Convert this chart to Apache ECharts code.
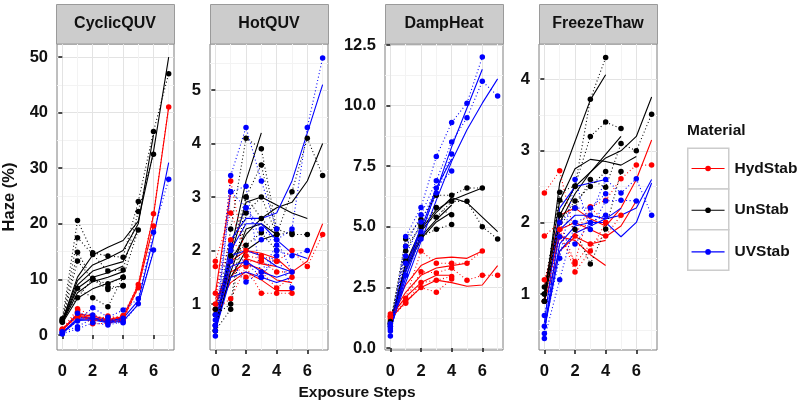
<!DOCTYPE html>
<html><head><meta charset="utf-8">
<script src="https://cdn.jsdelivr.net/npm/echarts@6/dist/echarts.min.js"></script>
<style>html,body{margin:0;padding:0;background:#fff}#c{width:800px;height:405px}</style>
</head><body><div id="c"></div>
<script>
const steps = [0, 1, 2, 3, 4, 5, 6, 7];
const panels = ['CyclicQUV', 'HotQUV', 'DampHeat', 'FreezeThaw'];
const materials = ['HydStab', 'UnStab', 'UVStab'];
const matColors = ['#ff0000', '#000000', '#0000ff'];
const xTicks = [0, 2, 4, 6];
const xMinorTicks = [1, 3, 5, 7];
const yTicksCyclic = [0, 10, 20, 30, 40, 50];
const yTicksHot = [1, 2, 3, 4, 5];
const yTicksDamp = [0, 2.5, 5, 7.5, 10, 12.5];
const yTicksFreeze = [1, 2, 3, 4];
const yMinorCyclic = [5, 15, 25, 35, 45];
const yMinorHot = [0.5, 1.5, 2.5, 3.5, 4.5, 5.5];
const yMinorDamp = [1.25, 3.75, 6.25, 8.75, 11.25];
const yMinorFreeze = [0.5, 1.5, 2.5, 3.5];

// ---- CyclicQUV ----
const cyclicHydObs = [
  [1.0, 4.7, 3.5, 3.0, 3.5, 9.1, 21.8, 41.0],
  [0.8, 3.8, 2.0, 2.1, 2.6, 8.5, 19.6, null],
  [1.1, 3.2, 2.8, 2.5, 3.2, null, null, null],
  [0.9, 4.2, 2.4, 3.4, 2.9, null, null, null]
];
const cyclicHydFit = [
  [1.0, 3.8, 3.4, 2.8, 3.3, 9.0, 21.5, 41.0],
  [0.9, 3.4, 2.9, 2.4, 2.9, 8.6, 19.8, null],
  [1.0, 3.6, 3.1, 2.7, 3.1, null, null, null]
];
const cyclicUnObs = [
  [2.8, 20.6, 14.8, 14.2, 14.0, 24.0, 36.6, 47.0],
  [2.6, 17.5, 14.5, 11.5, 11.7, 22.2, 32.5, null],
  [2.5, 14.9, 10.0, 9.2, 10.4, 18.9, null, null],
  [2.4, 13.3, 10.0, 8.2, 8.9, null, null, null],
  [2.3, 8.4, 6.7, 5.1, 10.4, null, null, null],
  [2.9, 6.7, 10.2, 8.6, 8.8, null, null, null]
];
const cyclicUnFit = [
  [2.6, 10.4, 14.4, 15.8, 17.0, 20.5, 33.0, 50.0],
  [2.5, 9.8, 12.6, 13.8, 15.2, 20.0, 36.0, null],
  [2.4, 9.0, 11.5, 12.4, 13.2, 19.0, null, null],
  [2.3, 8.4, 10.4, 11.2, 12.4, null, null, null],
  [2.2, 7.6, 9.6, 10.4, 11.4, null, null, null],
  [2.1, 6.6, 8.3, 9.3, 10.4, null, null, null]
];
const cyclicUVObs = [
  [0.3, 2.5, 4.9, 3.2, 4.5, 6.5, 18.5, 28.0],
  [0.5, 1.5, 3.0, 2.2, 2.2, 5.6, 15.3, null],
  [0.2, 1.1, 2.2, 1.8, 2.4, null, null, null],
  [0.6, 3.9, 3.6, 2.6, 3.0, null, null, null]
];
const cyclicUVFit = [
  [0.4, 3.0, 3.1, 2.5, 3.0, 6.2, 17.5, 31.0],
  [0.3, 2.6, 2.7, 2.2, 2.5, 5.5, 15.0, null],
  [0.4, 2.8, 2.9, 2.3, 2.7, null, null, null]
];

// ---- HotQUV ----
const hotHydObs = [
  [1.8, 2.7, 2.0, 1.9, 1.8, 2.0, 1.7, 2.3],
  [1.0, 3.3, 1.8, 1.8, 1.6, 1.6, null, null],
  [0.9, 1.1, 1.7, 1.2, 1.2, 1.2, null, null],
  [1.7, 1.8, 1.5, 1.6, 1.3, 1.5, null, null],
  [1.2, 2.2, 1.9, 1.85, 1.8, null, null, null]
];
const hotHydFit = [
  [1.2, 3.1, null, null, null, null, null, null],
  [1.0, 1.8, 2.0, 1.95, 1.85, 1.6, 1.8, 2.5],
  [1.0, 1.6, 1.75, 1.65, 1.45, 1.4, null, null],
  [0.9, 1.4, 1.6, 1.45, 1.25, 1.25, null, null],
  [1.1, 1.5, 1.85, 1.75, 1.7, null, null, null]
];
const hotUnObs = [
  [0.5, 2.0, 3.0, 2.6, 2.3, 3.1, 4.1, 3.4],
  [0.6, 2.4, 4.1, 3.9, 2.4, 2.3, 2.3, null],
  [0.8, 1.0, 3.0, 3.6, 2.3, null, null, null],
  [0.5, 0.9, 2.7, 3.0, 2.3, 2.33, null, null],
  [0.9, 1.9, 2.1, 2.33, 2.0, null, null, null]
];
const hotUnFit = [
  [0.5, 2.0, 3.3, 4.2, null, null, null, null],
  [0.6, 1.9, 2.9, 3.0, 2.85, 2.7, 2.6, null],
  [0.6, 1.8, 2.3, 2.6, 2.8, 2.9, 3.3, 4.0],
  [0.5, 1.6, 2.4, 2.5, 2.3, null, null, null],
  [0.6, 1.5, 2.0, 2.2, 2.3, null, null, null]
];
const hotUVObs = [
  [0.4, 3.1, 2.8, 2.4, 2.2, 2.4, 4.3, 5.6],
  [0.6, 3.4, 4.3, 3.3, 2.4, null, null, null],
  [0.5, 3.1, 3.2, 1.5, 2.0, 1.9, 2.0, null],
  [0.7, 2.1, 2.8, 2.2, 2.2, 1.6, null, null],
  [0.8, 2.0, 1.77, 1.5, 1.9, 1.3, null, null],
  [0.6, 1.8, 1.41, 1.6, 2.1, null, null, null]
];
const hotUVFit = [
  [0.5, 2.2, 2.6, 2.6, 2.7, 3.3, 4.2, 5.1],
  [0.5, 2.0, 2.5, 2.5, 2.2, 1.95, 1.85, null],
  [0.6, 1.9, 2.0, 1.9, 1.7, 1.6, null, null],
  [0.6, 1.7, 1.8, 1.6, 1.5, 1.6, null, null],
  [0.5, 1.5, 1.6, 1.5, 1.4, 1.5, null, null]
];

// ---- DampHeat ----
const dampHydObs = [
  [1.3, 2.05, 4.0, 3.5, 3.5, 3.5, 4.0, null],
  [1.4, 2.0, 3.15, 3.1, 3.3, 2.8, 3.0, 3.0],
  [1.2, 1.85, 2.7, 2.8, 2.95, null, null, null],
  [1.3, 1.9, 2.5, 2.3, 2.85, null, null, null]
];
const dampHydFit = [
  [1.3, 2.6, 3.4, 3.7, 3.75, 3.7, 4.0, null],
  [1.3, 2.3, 3.0, 3.3, 3.4, 3.5, null, null],
  [1.3, 2.1, 2.7, 3.0, 3.0, null, null, null],
  [1.2, 1.9, 2.5, 2.8, 2.7, 2.55, 2.6, 3.4]
];
const dampUnObs = [
  [1.0, 4.5, 5.3, 6.3, 6.3, 6.6, 6.6, null],
  [1.0, 4.0, 5.1, 5.4, 6.05, 6.05, 5.0, 4.5],
  [0.9, 3.6, 4.6, 4.9, 5.1, null, null, null],
  [1.1, 4.2, 5.0, 5.8, 5.5, null, null, null]
];
const dampUnFit = [
  [1.0, 3.5, 4.9, 5.7, 6.1, 6.35, 6.6, null],
  [1.0, 3.4, 4.8, 5.6, 6.2, 6.0, 5.4, 4.8],
  [0.9, 3.2, 4.5, 5.2, 5.6, null, null, null],
  [1.0, 3.3, 4.6, 5.3, 5.9, null, null, null]
];
const dampUVObs = [
  [0.5, 4.6, 5.8, 7.9, 9.3, 10.1, 12.0, null],
  [0.7, 4.2, 5.5, 6.9, 8.5, 9.5, 11.0, 10.4],
  [0.9, 3.8, 5.2, 6.6, 7.3, null, null, null],
  [1.0, 3.5, 4.8, 6.4, 8.0, null, null, null],
  [0.8, 3.0, 4.5, null, null, null, null, null]
];
const dampUVFit = [
  [0.8, 2.9, 4.7, 6.5, 8.3, 9.9, 11.5, null],
  [0.8, 2.7, 4.4, 6.1, 7.7, 9.0, 10.1, 11.1],
  [0.7, 3.1, 4.9, 6.6, 7.8, null, null, null],
  [0.8, 3.3, 5.0, null, null, null, null, null]
];

// ---- FreezeThaw ----
const freezeHydObs = [
  [2.41, 2.72, 1.81, 2.22, 2.31, 2.61, 2.8, 2.8],
  [1.81, 2.0, 1.42, 1.7, 1.81, 2.1, null, null],
  [1.2, 1.9, 1.31, 1.6, 2.0, null, null, null],
  [0.9, 1.8, 1.45, 2.21, 2.0, null, null, null]
];
const freezeHydFit = [
  [1.1, 2.1, 2.2, 2.05, 1.95, 2.2, 2.6, 3.15],
  [1.0, 1.9, 2.0, 1.9, 1.8, 1.95, 2.3, null],
  [1.0, 1.8, 1.75, 1.55, 1.4, null, null, null],
  [0.9, 1.6, 1.8, 1.7, 1.75, null, null, null]
];
const freezeUnObs = [
  [0.9, 2.1, 2.5, 3.72, 4.3, null, null, null],
  [1.0, 2.42, 2.51, 3.2, 3.4, 3.31, null, null],
  [1.1, 2.31, 2.2, 2.6, 2.49, 3.1, 3.0, 3.51],
  [0.9, 2.11, 1.9, 1.42, 1.91, 2.71, null, null],
  [1.0, 2.0, 2.3, 2.5, 2.71, null, null, null]
];
const freezeUnFit = [
  [0.9, 2.55, 3.13, 3.71, 4.06, null, null, null],
  [1.0, 2.3, 2.75, 2.88, 2.85, 2.8, 2.92, null],
  [1.0, 2.1, 2.5, 2.7, 2.9, 3.0, 3.2, 3.75],
  [0.9, 2.0, 2.4, 2.7, 2.95, 3.2, null, null]
];
const freezeUVObs = [
  [0.38, 1.2, 2.0, 2.1, 2.6, 2.41, 2.61, 2.1],
  [0.55, 1.5, 2.6, 1.9, 2.3, 2.31, 2.3, null],
  [0.7, 1.8, 1.7, 2.0, 2.1, null, null, null],
  [0.45, 2.0, 2.2, 2.2, 2.4, null, null, null]
];
const freezeUVFit = [
  [0.5, 1.9, 2.1, 2.1, 2.05, 2.1, 2.2, 2.6],
  [0.5, 1.7, 1.95, 2.0, 2.0, 1.8, 2.0, 2.55],
  [0.6, 2.2, 2.5, 2.55, 2.6, null, null, null],
  [0.5, 1.6, 1.85, 1.95, 2.05, 2.2, null, null]
];

// table assembled from the arrays above
const panelSeries = [
  [[cyclicHydObs, cyclicHydFit], [cyclicUnObs, cyclicUnFit], [cyclicUVObs, cyclicUVFit]],
  [[hotHydObs, hotHydFit], [hotUnObs, hotUnFit], [hotUVObs, hotUVFit]],
  [[dampHydObs, dampHydFit], [dampUnObs, dampUnFit], [dampUVObs, dampUVFit]],
  [[freezeHydObs, freezeHydFit], [freezeUnObs, freezeUnFit], [freezeUVObs, freezeUVFit]]
];
const yTicks = [yTicksCyclic, yTicksHot, yTicksDamp, yTicksFreeze];
const yMinor = [yMinorCyclic, yMinorHot, yMinorDamp, yMinorFreeze];

// layout (pixels)
const gridLeft = [56, 210, 385, 539];
const gridW = 118, gridTop = 44, gridH = 306;
const yRange = [[-2.7, 52.35], [0.14, 5.86], [-0.08, 12.54], [0.22, 4.49]];
const xRange = [-0.35, 7.35];
const FONT = '"Liberation Sans", Arial, sans-serif';
const TXT = '#111111';

const grid = [], xAxis = [], yAxis = [], series = [], graphic = [];
for (let p = 0; p < 4; p++) {
  grid.push({left: gridLeft[p], top: gridTop, width: gridW, height: gridH, show: true,
    borderColor: '#7f7f7f', borderWidth: 1, backgroundColor: '#ffffff'});
}
// main axes 0..3
for (let p = 0; p < 4; p++) {
  xAxis.push({type: 'value', gridIndex: p, min: xRange[0], max: xRange[1],
    axisLine: {show: false},
    axisTick: {show: true, length: 4, customValues: xTicks, lineStyle: {color: '#222', width: 1.6}},
    axisLabel: {customValues: xTicks, margin: 13, color: TXT, fontWeight: 'bold', fontSize: 16.5, fontFamily: FONT},
    splitLine: {show: true, lineStyle: {color: '#e3e3e3', width: 1}}
  });
  yAxis.push({type: 'value', gridIndex: p, min: yRange[p][0], max: yRange[p][1],
    axisLine: {show: false},
    axisTick: {show: true, length: 4, customValues: yTicks[p], lineStyle: {color: '#222', width: 1.6}},
    axisLabel: {customValues: yTicks[p], margin: 9, color: TXT, fontWeight: 'bold', fontSize: 16.5, fontFamily: FONT,
      formatter: p === 2 ? (v => Number(v).toFixed(1)) : (v => String(v))},
    splitLine: {show: true, lineStyle: {color: '#e3e3e3', width: 1}},
    name: p === 0 ? 'Haze (%)' : '', nameLocation: 'middle', nameGap: 39,
    nameTextStyle: {color: TXT, fontWeight: 'bold', fontSize: 16.5, fontFamily: FONT}
  });
}
// minor grid axes 4..7
for (let p = 0; p < 4; p++) {
  xAxis.push({type: 'value', gridIndex: p, min: xRange[0], max: xRange[1], position: 'bottom',
    axisLine: {show: false}, axisTick: {show: false, customValues: xMinorTicks},
    axisLabel: {show: false, customValues: xMinorTicks},
    splitLine: {show: true, lineStyle: {color: '#f3f3f3', width: 1}}});
  yAxis.push({type: 'value', gridIndex: p, min: yRange[p][0], max: yRange[p][1], position: 'left',
    axisLine: {show: false}, axisTick: {show: false, customValues: yMinor[p]},
    axisLabel: {show: false, customValues: yMinor[p]},
    splitLine: {show: true, lineStyle: {color: '#f3f3f3', width: 1}}});
}

function toPoints(row) {
  const pts = [];
  row.forEach((v, i) => { if (v != null) pts.push([steps[i], v]); });
  return pts;
}
for (let p = 0; p < 4; p++) {
  for (let m = 0; m < 3; m++) {
    const [obs, fit] = panelSeries[p][m];
    obs.forEach(row => series.push({
      type: 'line', name: materials[m], xAxisIndex: p, yAxisIndex: p, data: toPoints(row),
      symbol: 'circle', symbolSize: 5.5, showSymbol: true, silent: true, z: 3,
      itemStyle: {color: matColors[m]},
      lineStyle: {color: matColors[m], width: 1.1, type: [1, 2.5]}
    }));
    fit.forEach(row => series.push({
      type: 'line', name: materials[m], xAxisIndex: p, yAxisIndex: p, data: toPoints(row),
      symbol: 'none', silent: true, z: 2,
      itemStyle: {color: matColors[m]},
      lineStyle: {color: matColors[m], width: 1.1, type: 'solid'}
    }));
  }
  // strip header
  graphic.push({type: 'rect', left: gridLeft[p], top: 4, silent: true,
    shape: {width: gridW, height: 39.5}, style: {fill: '#cccccc', stroke: '#9a9a9a', lineWidth: 1}});
  graphic.push({type: 'text', x: gridLeft[p] + gridW / 2, y: 24, silent: true,
    style: {text: panels[p], align: 'center', verticalAlign: 'middle', fill: TXT,
      font: 'bold 16px ' + FONT}});
}
// x-axis title
graphic.push({type: 'text', x: 357, y: 393, silent: true,
  style: {text: 'Exposure Steps', align: 'center', verticalAlign: 'middle', fill: TXT, font: 'bold 15.5px ' + FONT}});
// legend title and key boxes
graphic.push({type: 'text', x: 687, y: 131, silent: true,
  style: {text: 'Material', align: 'left', verticalAlign: 'middle', fill: TXT, font: 'bold 15.5px ' + FONT}});
for (let k = 0; k < 3; k++) {
  graphic.push({type: 'rect', left: 687, top: 147.5 + k * 40.7, silent: true, z: -1,
    shape: {width: 41, height: 40.7}, style: {fill: '#ffffff', stroke: '#cccccc', lineWidth: 1.5}});
}

const option = {
  animation: false,
  backgroundColor: '#ffffff',
  grid, xAxis, yAxis, series, graphic,
  legend: {
    data: materials, orient: 'vertical', left: 691, top: 160.5, padding: 0,
    itemWidth: 33, itemHeight: 7, itemGap: 25.7, selectedMode: false,
    lineStyle: {type: 'solid', width: 1.1},
    textStyle: {color: TXT, fontWeight: 'bold', fontSize: 15.5, fontFamily: FONT, lineHeight: 15,
      padding: [0, 0, 0, 5]}
  }
};
const chart = echarts.init(document.getElementById('c'), null, {renderer: 'canvas'});
chart.setOption(option);
</script>
</body></html>
